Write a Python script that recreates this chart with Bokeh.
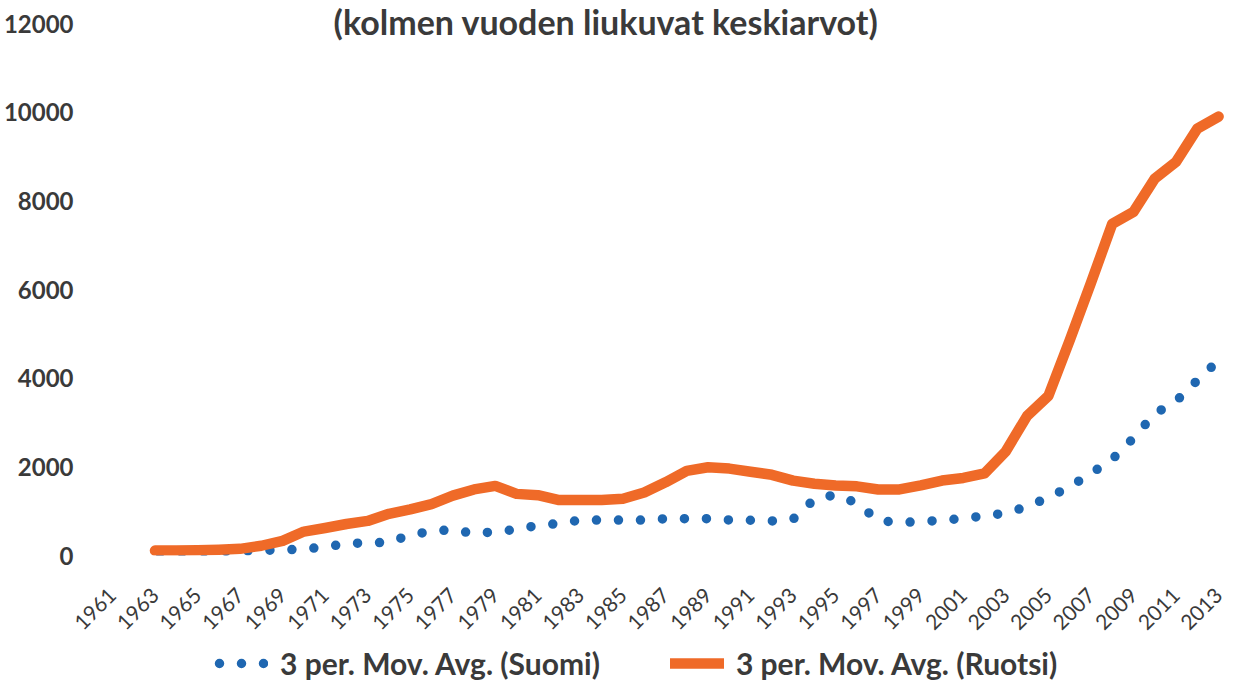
from math import pi
from bokeh.plotting import figure
from bokeh.layouts import column
from bokeh.models import (Range1d, FixedTicker, Label, Legend, LegendItem,
                          BasicTickFormatter)
from bokeh.embed import file_html
from bokeh.resources import INLINE

years = list(range(1963, 2014))
tick_years = list(range(1961, 2014, 2))
y_ticks = [0, 2000, 4000, 6000, 8000, 10000, 12000]

suomi = [60, 70, 80, 90, 100, 115, 125, 145, 195, 265, 290, 295, 465, 545, 585,
         490, 540, 585, 680, 720, 800, 800, 800, 800, 830, 830, 830, 800, 795,
         780, 820, 1270, 1370, 1180, 790, 740, 770, 790, 840, 890, 960, 1100,
         1310, 1550, 1850, 2170, 2650, 3200, 3480, 3950, 4400]

ruotsi = [110, 110, 120, 130, 150, 220, 330, 540, 620, 710, 780, 940, 1040, 1160,
          1350, 1490, 1570, 1390, 1360, 1250, 1250, 1250, 1280, 1420, 1650, 1910,
          1990, 1960, 1890, 1820, 1690, 1620, 1580, 1560, 1490, 1490, 1580, 1690,
          1750, 1850, 2350, 3150, 3600, 4850, 6150, 7480, 7750, 8500, 8880, 9630,
          9900]

title_text = "(kolmen vuoden liukuvat keskiarvot)"
label_suomi = "3 per. Mov. Avg. (Suomi)"
label_ruotsi = "3 per. Mov. Avg. (Ruotsi)"

ORANGE = "#EF6A28"
BLUE = "#1F67B1"
TEXT = "#3A3A3A"
FONT = "Lato"

SUOMI_STYLE = dict(line_color=BLUE, line_width=9.5, line_dash="0 22",
                   line_dash_offset=17, line_cap="round", line_join="round")
RUOTSI_STYLE = dict(line_color=ORANGE, line_width=10.5, line_cap="round",
                    line_join="round")

X_START, X_END = 1960.581, 2013.466
Y_TOP = 12519
p = figure(width=1230, height=645, output_backend="svg", toolbar_location=None,
           x_range=Range1d(X_START, X_END), y_range=Range1d(0, Y_TOP),
           min_border_left=93, min_border_right=2, min_border_top=0,
           min_border_bottom=90)
p.outline_line_color = None
p.xgrid.visible = False
p.ygrid.visible = False

p.line(years, suomi, **SUOMI_STYLE)
p.line(years, ruotsi, **RUOTSI_STYLE)

# axes
p.xaxis.ticker = FixedTicker(ticks=tick_years)
p.xaxis.formatter = BasicTickFormatter(use_scientific=False)
p.xaxis.major_label_orientation = pi / 4
p.xaxis.major_label_text_font = FONT
p.xaxis.major_label_text_font_size = "21px"
p.xaxis.major_label_text_color = TEXT
p.xaxis.major_label_standoff = 30
p.xaxis.axis_line_color = None
p.xaxis.major_tick_line_color = None
p.xaxis.minor_tick_line_color = None

p.yaxis.ticker = FixedTicker(ticks=y_ticks)
p.yaxis.formatter = BasicTickFormatter(use_scientific=False)
p.yaxis.major_label_text_font = FONT
p.yaxis.major_label_text_font_style = "bold"
p.yaxis.major_label_text_font_size = "24px"
p.yaxis.major_label_text_color = TEXT
p.yaxis.major_label_standoff = 24
p.yaxis.axis_line_color = None
p.yaxis.major_tick_line_color = None
p.yaxis.minor_tick_line_color = None

# title at the very top edge
p.add_layout(Label(x=X_START + (600 - 93) / 21.46, y=Y_TOP,
                   text=title_text, text_align="center",
                   text_baseline="top", text_font=FONT,
                   text_font_style="bold", text_font_size="34px",
                   text_color=TEXT))

# legend strip below the chart (its sample renderers hold points that lie
# outside the strip's visible range, so only the legend glyphs show)
lg = figure(width=1230, height=36, output_backend="svg", toolbar_location=None,
            x_range=Range1d(0, 1), y_range=Range1d(0, 1),
            min_border_left=0, min_border_right=0, min_border_top=0,
            min_border_bottom=0, x_axis_type=None, y_axis_type=None)
lg.outline_line_color = None
lg.xgrid.visible = False
lg.ygrid.visible = False
s_leg = lg.line([5, 6], [5, 6], **SUOMI_STYLE)
r_leg = lg.line([5, 6], [5, 6], **RUOTSI_STYLE)

legend = Legend(items=[LegendItem(label=label_suomi, renderers=[s_leg]),
                       LegendItem(label=label_ruotsi, renderers=[r_leg])],
                orientation="horizontal", location=(111, 0),
                glyph_width=54, glyph_height=24, label_standoff=12, spacing=70,
                padding=0, margin=0, border_line_color=None,
                background_fill_alpha=0, label_text_font=FONT,
                label_text_font_style="bold", label_text_font_size="30px",
                label_text_color=TEXT, label_height=24)
lg.add_layout(legend, "center")

layout = column(p, lg, spacing=0)
open("out.html", "w").write(file_html(layout, INLINE))
